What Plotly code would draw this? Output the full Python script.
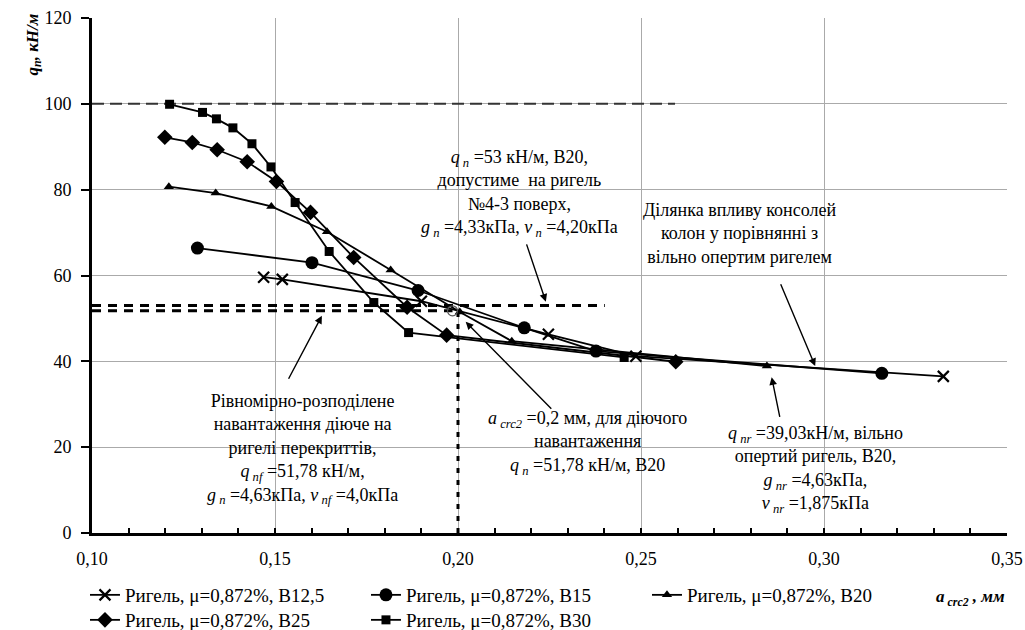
import plotly.graph_objects as go

# ---- data ----
series_names = [
    "Ригель, μ=0,872%, В12,5",
    "Ригель, μ=0,872%, В15",
    "Ригель, μ=0,872%, В20",
    "Ригель, μ=0,872%, В25",
    "Ригель, μ=0,872%, В30",
]
legend_rows = ["legend", "legend", "legend", "legend2", "legend2"]

a_b125 = [0.1469, 0.1520, 0.1900, 0.2247, 0.2486, 0.3326]
q_b125 = [59.6, 59.1, 54.0, 46.3, 41.2, 36.5]

a_b15 = [0.1288, 0.1601, 0.1891, 0.2181, 0.2377, 0.3158]
q_b15 = [66.4, 63.0, 56.5, 47.8, 42.4, 37.2]

a_b20 = [0.1210, 0.1338, 0.1490, 0.1642, 0.1816, 0.2005, 0.2147, 0.2844]
q_b20 = [80.7, 79.2, 76.1, 70.2, 61.3, 51.5, 44.7, 38.9]

a_b25 = [0.1199, 0.1274, 0.1342, 0.1424, 0.1504, 0.1597, 0.1715, 0.1861, 0.1969, 0.2595]
q_b25 = [92.2, 91.0, 89.3, 86.5, 81.9, 74.7, 64.2, 52.6, 46.1, 39.9]

a_b30 = [0.1212, 0.1302, 0.1340, 0.1385, 0.1437, 0.1489, 0.1555, 0.1648, 0.1770, 0.1865, 0.2454]
q_b30 = [99.9, 98.0, 96.5, 94.4, 90.7, 85.3, 77.0, 65.6, 53.7, 46.7, 40.9]

# reference levels
ref100_a = [0.10, 0.2593]
ref100_q = [100, 100]
ref53_a = [0.10, 0.2401]
ref53_q = [53.0, 53.0]
ref5178_a = [0.10, 0.1985]
ref5178_q = [51.78, 51.78]
vline_a = [0.20, 0.20]
vline_q = [0, 51.78]
point_a = [0.1985]
point_q = [51.78]

x_tickvals = [0.10, 0.15, 0.20, 0.25, 0.30, 0.35]
x_ticktext = ["0,10", "0,15", "0,20", "0,25", "0,30", "0,35"]
y_tickvals = [0, 20, 40, 60, 80, 100, 120]

FONT = "Liberation Serif"
fig = go.Figure()

# reference lines (behind)
fig.add_trace(go.Scatter(x=ref100_a, y=ref100_q, mode="lines", showlegend=False, hoverinfo="skip",
                         line=dict(color="#333333", width=2, dash="12px,6px")))
fig.add_trace(go.Scatter(x=ref53_a, y=ref53_q, mode="lines", showlegend=False, hoverinfo="skip",
                         line=dict(color="black", width=3, dash="9px,7px")))
fig.add_trace(go.Scatter(x=ref5178_a, y=ref5178_q, mode="lines", showlegend=False, hoverinfo="skip",
                         line=dict(color="black", width=3, dash="9px,7px")))
fig.add_trace(go.Scatter(x=vline_a, y=vline_q, mode="lines", showlegend=False, hoverinfo="skip",
                         line=dict(color="black", width=3, dash="5px,7px")))

styles = [
    (a_b125, q_b125, dict(symbol="x-thin-open", size=11, color="black", line=dict(width=2.2, color="black"))),
    (a_b15, q_b15, dict(symbol="circle", size=13, color="black")),
    (a_b20, q_b20, dict(symbol="triangle-up", size=9, color="black")),
    (a_b25, q_b25, dict(symbol="diamond", size=12, color="black")),
    (a_b30, q_b30, dict(symbol="square", size=9, color="black")),
]
for name, lg, (xs, ys, mk) in zip(series_names, legend_rows, styles):
    fig.add_trace(go.Scatter(x=xs, y=ys, mode="lines+markers", name=name, legend=lg,
                             line=dict(color="black", width=1.8), marker=mk))

fig.add_trace(go.Scatter(x=point_a, y=point_q, mode="markers", showlegend=False, hoverinfo="skip",
                         marker=dict(symbol="circle-open", size=10, color="#555555", line=dict(width=1.2))))

# text annotations
texts = [
    (0.2169, 79.0, "<i>q</i><sub><i> n</i></sub> =53 кН/м, В20,<br>допустиме  на ригель<br>№4-3 поверх,<br><i>g</i><sub><i> n</i></sub> =4,33кПа, <i>v</i><sub><i> n</i></sub> =4,20кПа"),
    (0.2770, 69.7, "Ділянка впливу консолей<br>колон у порівнянні з<br>вільно опертим ригелем"),
    (0.1576, 19.5, "Рівномірно-розподілене<br>навантаження діюче на<br>ригелі перекриттів,<br><i>q</i><sub><i> nf</i></sub> =51,78 кН/м,<br><i>g</i><sub><i> n</i></sub> =4,63кПа, <i>v</i><sub><i> nf</i></sub> =4,0кПа"),
    (0.2355, 20.9, "<i>a</i><sub><i> crc2</i></sub> =0,2 мм, для діючого<br>навантаження<br><i>q</i><sub><i> n</i></sub> =51,78 кН/м, В20"),
    (0.2976, 14.8, "<i>q</i><sub><i> nr</i></sub> =39,03кН/м, вільно<br>опертий ригель, В20,<br><i>g</i><sub><i> nr</i></sub> =4,63кПа,<br><i>v</i><sub><i> nr</i></sub> =1,875кПа"),
]
annotations = []
for x, y, t in texts:
    annotations.append(dict(x=x, y=y, xref="x", yref="y", text=t, showarrow=False,
                            align="center", xanchor="center", yanchor="middle",
                            font=dict(family=FONT, size=18, color="black")))

arrows = [
    (0.2186, 67.6, 0.2240, 53.9),
    (0.2880, 58.3, 0.2976, 38.9),
    (0.1535, 35.6, 0.1628, 50.6),
    (0.2259, 28.6, 0.2021, 49.2),
    (0.2880, 26.7, 0.2857, 36.3),
]
for ax, ay, hx, hy in arrows:
    annotations.append(dict(x=hx, y=hy, ax=ax, ay=ay, xref="x", yref="y", axref="x", ayref="y",
                            text="", showarrow=True, arrowhead=2, arrowsize=1.1, arrowwidth=1.4,
                            arrowcolor="black"))

annotations.append(dict(xref="paper", yref="paper", x=-0.0638, y=0.948, textangle=-90,
                        xanchor="center", yanchor="middle",
                        text="<b><i>q</i></b><sub><b><i>n</i></b></sub><b><i>, кН/м</i></b>",
                        showarrow=False, font=dict(family=FONT, size=17, color="black")))
annotations.append(dict(xref="paper", yref="paper", x=1.0, y=-0.127, xanchor="right", yanchor="middle",
                        text="<b><i>a</i></b><sub><b><i> crc2</i></b></sub><b><i> , мм</i></b>",
                        showarrow=False, font=dict(family=FONT, size=17, color="black")))

legend_common = dict(orientation="h", xref="container", yref="container", x=0.0829,
                     xanchor="left", yanchor="top",
                     font=dict(family=FONT, size=19, color="black"),
                     entrywidth=236, itemwidth=30, bgcolor="rgba(0,0,0,0)",
                     traceorder="normal")

fig.update_layout(
    width=1025, height=630,
    margin=dict(l=92, r=18, t=18, b=97, autoexpand=False),
    paper_bgcolor="white", plot_bgcolor="white",
    font=dict(family=FONT, size=17, color="black"),
    annotations=annotations,
    legend=dict(legend_common, y=1 - 576 / 630),
    legend2=dict(legend_common, y=1 - 601 / 630),
)
fig.update_xaxes(range=[0.10, 0.35], tickvals=x_tickvals, ticktext=x_ticktext,
                 showgrid=True, gridcolor="#aaaaaa", gridwidth=1,
                 showline=True, linecolor="black", linewidth=3,
                 ticks="inside", ticklen=5, tickwidth=2, tickcolor="black",
                 minor=dict(dtick=0.01, ticks="inside", ticklen=5, tickwidth=2, tickcolor="black", showgrid=False),
                 ticklabelstandoff=7, zeroline=False,
                 tickfont=dict(family=FONT, size=18))
fig.update_yaxes(range=[0, 120], tickvals=y_tickvals,
                 showgrid=True, gridcolor="#aaaaaa", gridwidth=1,
                 showline=True, linecolor="black", linewidth=3,
                 ticks="outside", ticklen=8, tickwidth=2, tickcolor="black",
                 ticklabelstandoff=6, zeroline=False,
                 tickfont=dict(family=FONT, size=18))

fig.write_html("out.html")
